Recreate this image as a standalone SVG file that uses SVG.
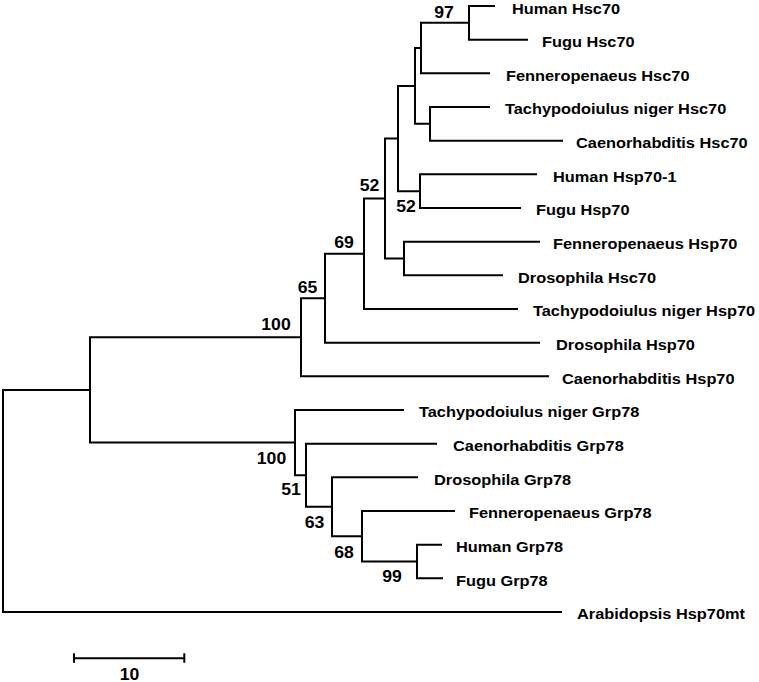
<svg xmlns="http://www.w3.org/2000/svg" width="759" height="682" viewBox="0 0 759 682">
<style>
.br{fill:none;stroke:#000;stroke-width:2;stroke-linejoin:miter;stroke-linecap:butt}
text{font-family:"Liberation Sans",Arial,sans-serif;font-weight:bold;font-size:15.5px;fill:#000}
.bs{text-anchor:middle;font-size:16.5px}
</style>
<rect width="759" height="682" fill="#fff"/>
<g id="connectors">
<path class="br" d="M90 390H3V612H562"/>
<path class="br" d="M301 337.3H90V442.6H295"/>
<path class="br" d="M325 298.2H301V376.3H549"/>
<path class="br" d="M364 253.8H325V342.7H540"/>
<path class="br" d="M385 198.5H364V309H518"/>
<path class="br" d="M398 138.5H385V258.5H404"/>
<path class="br" d="M540 241.7H404V275.3H503"/>
<path class="br" d="M415 85.9H398V191.2H420"/>
<path class="br" d="M537 174.3H420V208H521"/>
<path class="br" d="M421 48H415V123.8H430"/>
<path class="br" d="M490 107H430V140.7H563"/>
<path class="br" d="M469 22.8H421V73.3H490"/>
<path class="br" d="M495 6H469V39.7H528"/>
<path class="br" d="M404 410H295V475.2H306"/>
<path class="br" d="M437 443.7H306V506.8H332"/>
<path class="br" d="M418 477.3H332V536.2H362"/>
<path class="br" d="M455 511H362V561.5H417"/>
<path class="br" d="M442 544.7H417V578.3H443"/>
</g>
<g id="leaf-human-hsc70"><text transform="translate(512 13.5) scale(1.055 1)">Human Hsc70</text></g>
<g id="leaf-fugu-hsc70"><text transform="translate(542 47) scale(1.055 1)">Fugu Hsc70</text></g>
<g id="leaf-fenneropenaeus-hsc70"><text transform="translate(506 80.6) scale(1.055 1)">Fenneropenaeus Hsc70</text></g>
<g id="leaf-tachypodoiulus-hsc70"><text transform="translate(505 114.3) scale(1.055 1)">Tachypodoiulus niger Hsc70</text></g>
<g id="leaf-caenorhabditis-hsc70"><text transform="translate(576 148) scale(1.055 1)">Caenorhabditis Hsc70</text></g>
<g id="leaf-human-hsp70-1"><text transform="translate(553 181.6) scale(1.055 1)">Human Hsp70-1</text></g>
<g id="leaf-fugu-hsp70"><text transform="translate(536 215.3) scale(1.055 1)">Fugu Hsp70</text></g>
<g id="leaf-fenneropenaeus-hsp70"><text transform="translate(553 249) scale(1.055 1)">Fenneropenaeus Hsp70</text></g>
<g id="leaf-drosophila-hsc70"><text transform="translate(518 282.6) scale(1.055 1)">Drosophila Hsc70</text></g>
<g id="leaf-tachypodoiulus-hsp70"><text transform="translate(533 316.3) scale(1.055 1)">Tachypodoiulus niger Hsp70</text></g>
<g id="leaf-drosophila-hsp70"><text transform="translate(556 350) scale(1.055 1)">Drosophila Hsp70</text></g>
<g id="leaf-caenorhabditis-hsp70"><text transform="translate(562 383.6) scale(1.055 1)">Caenorhabditis Hsp70</text></g>
<g id="leaf-tachypodoiulus-grp78"><text transform="translate(419 417.3) scale(1.055 1)">Tachypodoiulus niger Grp78</text></g>
<g id="leaf-caenorhabditis-grp78"><text transform="translate(453 451) scale(1.055 1)">Caenorhabditis Grp78</text></g>
<g id="leaf-drosophila-grp78"><text transform="translate(434 484.6) scale(1.055 1)">Drosophila Grp78</text></g>
<g id="leaf-fenneropenaeus-grp78"><text transform="translate(469 518.3) scale(1.055 1)">Fenneropenaeus Grp78</text></g>
<g id="leaf-human-grp78"><text transform="translate(456 552) scale(1.055 1)">Human Grp78</text></g>
<g id="leaf-fugu-grp78"><text transform="translate(456 585.6) scale(1.055 1)">Fugu Grp78</text></g>
<g id="leaf-arabidopsis-hsp70mt"><text transform="translate(577 619.3) scale(1.055 1)">Arabidopsis Hsp70mt</text></g>
<g id="node-97"><text class="bs" transform="translate(444 17.5) scale(1.07 1)">97</text></g>
<g id="node-52a"><text class="bs" transform="translate(406 212) scale(1.07 1)">52</text></g>
<g id="node-52b"><text class="bs" transform="translate(369.5 191.3) scale(1.07 1)">52</text></g>
<g id="node-69"><text class="bs" transform="translate(344 248.3) scale(1.07 1)">69</text></g>
<g id="node-65"><text class="bs" transform="translate(307.5 293.3) scale(1.07 1)">65</text></g>
<g id="node-100a"><text class="bs" transform="translate(276 329.6) scale(1.07 1)">100</text></g>
<g id="node-100b"><text class="bs" transform="translate(271.5 464.3) scale(1.07 1)">100</text></g>
<g id="node-51"><text class="bs" transform="translate(291 495.3) scale(1.07 1)">51</text></g>
<g id="node-63"><text class="bs" transform="translate(314.5 528.3) scale(1.07 1)">63</text></g>
<g id="node-68"><text class="bs" transform="translate(344 558) scale(1.07 1)">68</text></g>
<g id="node-99"><text class="bs" transform="translate(392 582.3) scale(1.07 1)">99</text></g>
<g id="scale-bar">
<path class="br" d="M74 658.3H184.3M74 653.3V662.7M184.3 653.3V662.7"/>
<text class="bs" transform="translate(129.5 679.5) scale(1.07 1)">10</text>
</g>
</svg>
